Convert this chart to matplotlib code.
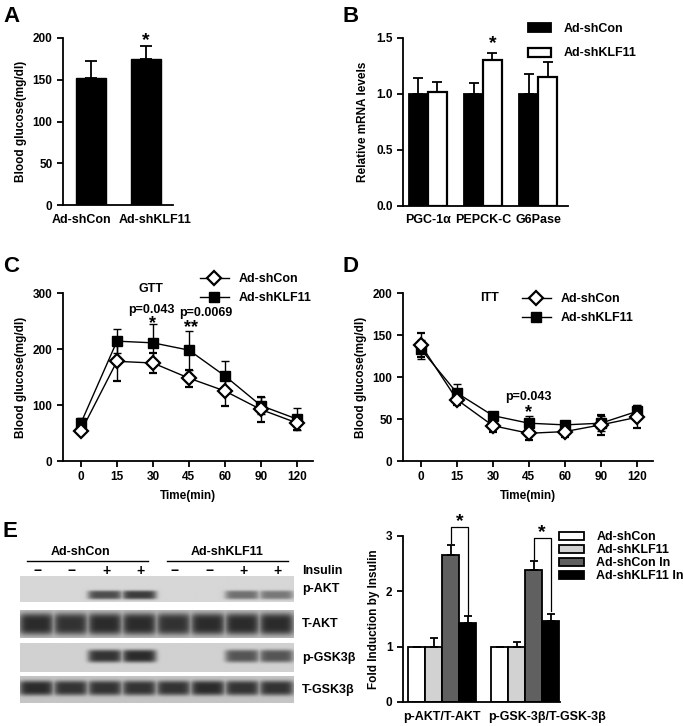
import numpy as np
import matplotlib
matplotlib.use("Agg")
import matplotlib.pyplot as plt
from matplotlib.lines import Line2D

plt.rcParams.update({
    "font.family": ["Liberation Sans", "DejaVu Sans"],
    "font.weight": "bold",
    "axes.labelweight": "bold",
    "font.size": 8.5,
    "axes.linewidth": 1.3,
    "xtick.major.width": 1.3,
    "ytick.major.width": 1.3,
    "xtick.major.size": 4,
    "ytick.major.size": 4,
    "xtick.direction": "out",
    "ytick.direction": "out",
})

# ---- data ----
groups_a = ["Ad-shCon", "Ad-shKLF11"]
glucose_a = [152, 175]
glucose_a_err = [20, 15]

genes_b = ["PGC-1\u03b1", "PEPCK-C", "G6Pase"]
mrna_con = [1.0, 1.0, 1.0]
mrna_con_err = [0.14, 0.10, 0.18]
mrna_klf = [1.02, 1.30, 1.15]
mrna_klf_err = [0.09, 0.07, 0.14]

times = ["0", "15", "30", "45", "60", "90", "120"]
gtt_con = [53, 178, 175, 148, 125, 92, 68]
gtt_con_err = [5, 35, 17, 15, 27, 22, 12]
gtt_klf = [68, 214, 211, 198, 152, 99, 75]
gtt_klf_err = [9, 22, 33, 35, 27, 15, 20]

itt_con = [138, 73, 42, 33, 35, 43, 52]
itt_con_err = [14, 6, 8, 8, 7, 12, 13]
itt_klf = [133, 81, 54, 45, 43, 45, 59]
itt_klf_err = [11, 11, 3, 8, 3, 9, 8]

# western blot band strengths per lane (shCon -,-,+,+ | shKLF11 -,-,+,+)
insulin = ["\u2212", "\u2212", "+", "+", "\u2212", "\u2212", "+", "+"]
blot_rows = ["p-AKT", "T-AKT", "p-GSK3\u03b2", "T-GSK3\u03b2"]
band_pakt = [0.0, 0.0, 0.80, 0.90, 0.0, 0.0, 0.60, 0.55]
band_takt = [1.0, 0.95, 1.0, 1.0, 0.95, 1.0, 1.0, 1.0]
band_pgsk = [0.0, 0.0, 0.95, 1.0, 0.0, 0.0, 0.75, 0.75]
band_tgsk = [1.0, 0.95, 0.95, 0.95, 0.95, 1.0, 0.95, 0.95]

ratios_e = ["p-AKT/T-AKT", "p-GSK-3\u03b2/T-GSK-3\u03b2"]
series_e = ["Ad-shCon", "Ad-shKLF11", "Ad-shCon In", "Ad-shKLF11 In"]
fold_e = [[1.0, 1.0], [1.0, 1.0], [2.65, 2.38], [1.42, 1.47]]
fold_e_err = [[0.0, 0.0], [0.15, 0.09], [0.18, 0.17], [0.13, 0.12]]
colors_e = ["white", "#d2d2d2", "#606060", "black"]

W, H = 683, 726
fig = plt.figure(figsize=(W / 100, H / 100), dpi=100)


def px(l, t, r, b):
    return [l / W, 1 - b / H, (r - l) / W, (b - t) / H]


def style(ax):
    for s in ["top", "right"]:
        ax.spines[s].set_visible(False)


def up_err(err):
    return [np.zeros(len(err)), err]


# panel letters
for lab, x, y in [("A", 3, 22), ("B", 343, 22), ("C", 3, 272), ("D", 343, 272), ("E", 3, 537)]:
    fig.text(x / W, 1 - y / H, lab, fontsize=16, fontweight="bold")

# ---- A ----
axa = fig.add_axes(px(63, 38, 173, 205))
style(axa)
xa = np.arange(len(groups_a))
axa.bar(xa, glucose_a, width=0.55, color="black", edgecolor="black",
        yerr=up_err(glucose_a_err), capsize=4, error_kw=dict(elinewidth=1.3, capthick=1.3))
axa.set_xlim(-0.51, 1.49)
axa.set_ylim(0, 200)
axa.set_yticks([0, 50, 100, 150, 200])
axa.set_xticks([])
for x, name, dx in zip(xa, groups_a, [-0.17, 0.17]):
    axa.text(x + dx, -0.09, name, transform=axa.get_xaxis_transform(),
             ha="center", va="center", fontsize=9)
axa.set_ylabel("Blood glucose(mg/dl)", labelpad=4)
axa.text(1, 197, "*", ha="center", va="center", fontsize=14)

# ---- B ----
axb = fig.add_axes(px(403, 38, 568, 206))
style(axb)
xb = np.arange(len(genes_b))
bw = 0.34
axb.bar(xb - bw / 2, mrna_con, width=bw, color="black", edgecolor="black", linewidth=1.3,
        yerr=up_err(mrna_con_err), capsize=3.5, error_kw=dict(elinewidth=1.3, capthick=1.3),
        label="Ad-shCon")
axb.bar(xb + bw / 2, mrna_klf, width=bw, color="white", edgecolor="black", linewidth=1.6,
        yerr=up_err(mrna_klf_err), capsize=3.5, error_kw=dict(elinewidth=1.3, capthick=1.3),
        label="Ad-shKLF11")
axb.set_xlim(-0.45, 2.54)
axb.set_ylim(0, 1.5)
axb.set_yticks([0.0, 0.5, 1.0, 1.5])
axb.set_yticklabels(["0.0", "0.5", "1.0", "1.5"])
axb.set_xticks(xb, genes_b)
axb.tick_params(axis="x", length=0, pad=6, labelsize=9)
axb.set_ylabel("Relative mRNA levels", labelpad=5)
axb.text(1 + bw / 2, 1.45, "*", ha="center", va="center", fontsize=14)
axb.legend(loc="upper left", bbox_to_anchor=(528 / W, 1 - 23 / H), bbox_transform=fig.transFigure,
           frameon=False, fontsize=9, handlelength=1.85, handleheight=0.75,
           labelspacing=1.0, handletextpad=1.0, borderpad=0, borderaxespad=0)

# legend handles for the line panels (no error bars)
line_handles = [
    Line2D([], [], color="black", lw=1.0, marker="D", ms=7, mfc="white", mec="black", mew=1.6),
    Line2D([], [], color="black", lw=1.0, marker="s", ms=7.5, mfc="black", mec="black"),
]
line_labels = ["Ad-shCon", "Ad-shKLF11"]


# ---- C & D ----
def line_panel(ax, con, con_err, klf, klf_err, ymax, yticks):
    style(ax)
    x = np.arange(len(times))
    ax.errorbar(x, klf, yerr=klf_err, color="black", lw=1.0, marker="s", ms=7.5,
                mfc="black", mec="black", capsize=3, elinewidth=1.0, capthick=1.0, zorder=3)
    ax.errorbar(x, con, yerr=con_err, color="black", lw=1.0, marker="D", ms=7,
                mfc="white", mec="black", mew=1.6, capsize=3, elinewidth=1.0, capthick=1.0,
                zorder=4)
    ax.set_xlim(-0.5, 6.45)
    ax.set_ylim(0, ymax)
    ax.set_yticks(yticks)
    ax.set_xticks(x, times)
    ax.set_xlabel("Time(min)", labelpad=5)
    ax.set_ylabel("Blood glucose(mg/dl)", labelpad=4)


axc = fig.add_axes(px(63, 293, 313, 461))
line_panel(axc, gtt_con, gtt_con_err, gtt_klf, gtt_klf_err, 300, [0, 100, 200, 300])
axc.legend(line_handles, line_labels, loc="upper left", bbox_to_anchor=(200 / W, 1 - 273 / H),
           bbox_transform=fig.transFigure, frameon=False, fontsize=9, handlelength=2.3,
           labelspacing=0.55, handletextpad=0.8, borderpad=0, borderaxespad=0)
axc.text(1.95, 307, "GTT", ha="center", va="center", clip_on=False, fontsize=9)
axc.text(1.97, 270, "p=0.043", ha="center", va="center", fontsize=9)
axc.text(2, 245, "*", ha="center", va="center", fontsize=13)
axc.text(3.47, 264, "p=0.0069", ha="center", va="center", fontsize=9)
axc.text(3.05, 238, "**", ha="center", va="center", fontsize=13)

axd = fig.add_axes(px(403, 293, 653, 461))
line_panel(axd, itt_con, itt_con_err, itt_klf, itt_klf_err, 200, [0, 50, 100, 150, 200])
axd.legend(line_handles, line_labels, loc="upper left", bbox_to_anchor=(522 / W, 1 - 293 / H),
           bbox_transform=fig.transFigure, frameon=False, fontsize=9, handlelength=2.3,
           labelspacing=0.55, handletextpad=0.8, borderpad=0, borderaxespad=0)
axd.text(1.9, 194, "ITT", ha="center", va="center", fontsize=9)
axd.text(3, 76, "p=0.043", ha="center", va="center", fontsize=9)
axd.text(3, 58, "*", ha="center", va="center", fontsize=13)

# ---- E blot ----
axw = fig.add_axes(px(0, 540, 340, 710))
axw.set_axis_off()
lane_w = 34.3

strips = [  # levels, top px, bottom px, band centre px, band half height, background
    (band_pakt, 576, 602, 595, 4.5, 0.84),
    (band_takt, 610, 638, 624, 11.0, 0.74),
    (band_pgsk, 643, 672, 656, 6.5, 0.82),
    (band_tgsk, 676, 703, 688, 7.5, 0.77),
]
lanes = np.arange(1, 9)
x0, x1 = 0.53, 8.5
for levels, top, bot, yc, hh, bg in strips:
    xs = np.linspace(x0, x1, 400)
    ys = np.linspace(top, bot, 60)
    X, Y = np.meshgrid(xs, ys)
    dark = np.zeros_like(X)
    for lane, lv in zip(lanes, levels):
        dark = np.maximum(dark, lv * np.exp(-((X - lane) / 0.5) ** 6 - ((Y - yc) / hh) ** 4))
    img = bg - dark * (bg - 0.17)
    axw.imshow(img, extent=(x0, x1, bot, top), cmap="gray", vmin=0, vmax=1,
               aspect="auto", interpolation="bilinear")
axw.set_xlim(1 - 36 / lane_w, 1 + (340 - 36) / lane_w)
axw.set_ylim(710, 540)

axw.text(2.3, 552, "Ad-shCon", ha="center", va="center", fontsize=9)
axw.plot([0.74, 4.27], [561, 561], color="black", lw=1.0)
axw.text(6.57, 552, "Ad-shKLF11", ha="center", va="center", fontsize=9)
axw.plot([4.82, 8.35], [561, 561], color="black", lw=1.0)
for lane, s in zip(lanes, insulin):
    axw.text(lane + 0.05, 571, s, ha="center", va="center", fontsize=10)
label_x = 1 + (302 - 36) / lane_w
axw.text(label_x, 571, "Insulin", ha="left", va="center", fontsize=9)
for name, (levels, top, bot, yc, hh, bg) in zip(blot_rows, strips):
    axw.text(label_x, (top + bot) / 2, name, ha="left", va="center", fontsize=9)

# ---- E bars ----
axe = fig.add_axes(px(403, 536, 560, 702))
style(axe)
xe = np.arange(len(ratios_e))
ew = 0.205
for i, (vals, errs, c) in enumerate(zip(fold_e, fold_e_err, colors_e)):
    axe.bar(xe + (i - 1.5) * ew, vals, width=ew, color=c, edgecolor="black", linewidth=1.3,
            yerr=up_err(errs), capsize=3, error_kw=dict(elinewidth=1.3, capthick=1.3),
            label=series_e[i])
axe.set_xlim(-0.476, 1.42)
axe.set_ylim(0, 3)
axe.set_yticks([0, 1, 2, 3])
axe.set_xticks([])
for x, name, dx in zip(xe, ratios_e, [0.0, 0.26]):
    axe.text(x + dx, -0.09, name, transform=axe.get_xaxis_transform(),
             ha="center", va="center", fontsize=9)
axe.set_ylabel("Fold Induction by Insulin", labelpad=4)

brackets = [(0, 3.16, 2.87, 1.57, 3.26), (1, 2.96, 2.58, 1.64, 3.06)]
for g, ytop, yl, yr, ys in brackets:
    xl, xr = g + 0.5 * ew, g + 1.5 * ew
    axe.plot([xl, xl, xr, xr], [yl, ytop, ytop, yr], color="black", lw=0.9, clip_on=False)
    axe.text(g + ew, ys, "*", ha="center", va="center", fontsize=14, clip_on=False)

axe.legend(loc="upper left", bbox_to_anchor=(559 / W, 1 - 531 / H), bbox_transform=fig.transFigure,
           frameon=False, fontsize=9, handlelength=2.0, handleheight=0.6,
           labelspacing=0.08, handletextpad=1.0, borderpad=0, borderaxespad=0)

fig.savefig("out.png", dpi=100)
